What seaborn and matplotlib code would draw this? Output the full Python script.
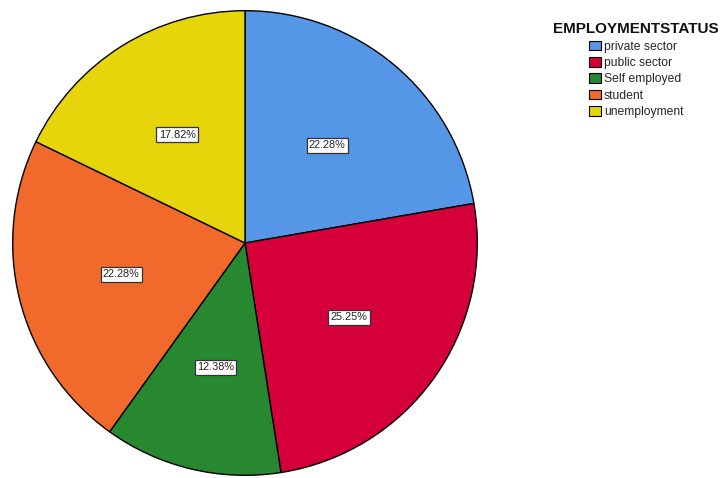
import matplotlib
matplotlib.use("Agg")
import matplotlib.pyplot as plt
import seaborn as sns

# Employment status shares (%)
categories = ["private sector", "public sector", "Self employed", "student", "unemployment"]
shares = [22.28, 25.25, 12.38, 22.28, 17.82]
palette_hex = ["#5596E6", "#D5003A", "#28882F", "#F16A2B", "#E6D50A"]

sns.set_style("white")
plt.rcParams["font.family"] = ["Liberation Sans", "DejaVu Sans"]
colors = sns.color_palette(palette_hex)

fig = plt.figure(figsize=(7.23, 4.78), dpi=100)
ax = fig.add_axes([12 / 723, 2 / 478, 466 / 723, 466 / 478])

wedges, texts, autotexts = ax.pie(
    shares,
    colors=colors,
    startangle=90,
    counterclock=False,
    autopct=lambda p: f"{p:.2f}%",
    pctdistance=0.55,
    wedgeprops=dict(edgecolor="black", linewidth=1.0),
    textprops=dict(fontsize=7.8, color="#222222"),
)
for t in autotexts:
    t.set_bbox(dict(facecolor="white", edgecolor="#333333", linewidth=0.9, pad=1.6))

ax.set_xlim(-1.003, 1.003)
ax.set_ylim(-1.003, 1.003)
ax.set_aspect("equal")
ax.axis("off")

leg = fig.legend(
    wedges,
    categories,
    title="EMPLOYMENTSTATUS",
    loc="upper left",
    bbox_to_anchor=(551 / 723, 1 - 20 / 478),
    frameon=False,
    fontsize=8.7,
    handlelength=1.0,
    handleheight=0.85,
    handletextpad=0.25,
    labelspacing=0.36,
    borderaxespad=0,
    borderpad=0.2,
)
leg.get_title().set_fontweight("bold")
leg.get_title().set_fontsize(11)
leg.get_title().set_color("#111111")
for h in leg.legend_handles:
    h.set_edgecolor("black")
    h.set_linewidth(0.8)

fig.savefig("out.png", dpi=100)
